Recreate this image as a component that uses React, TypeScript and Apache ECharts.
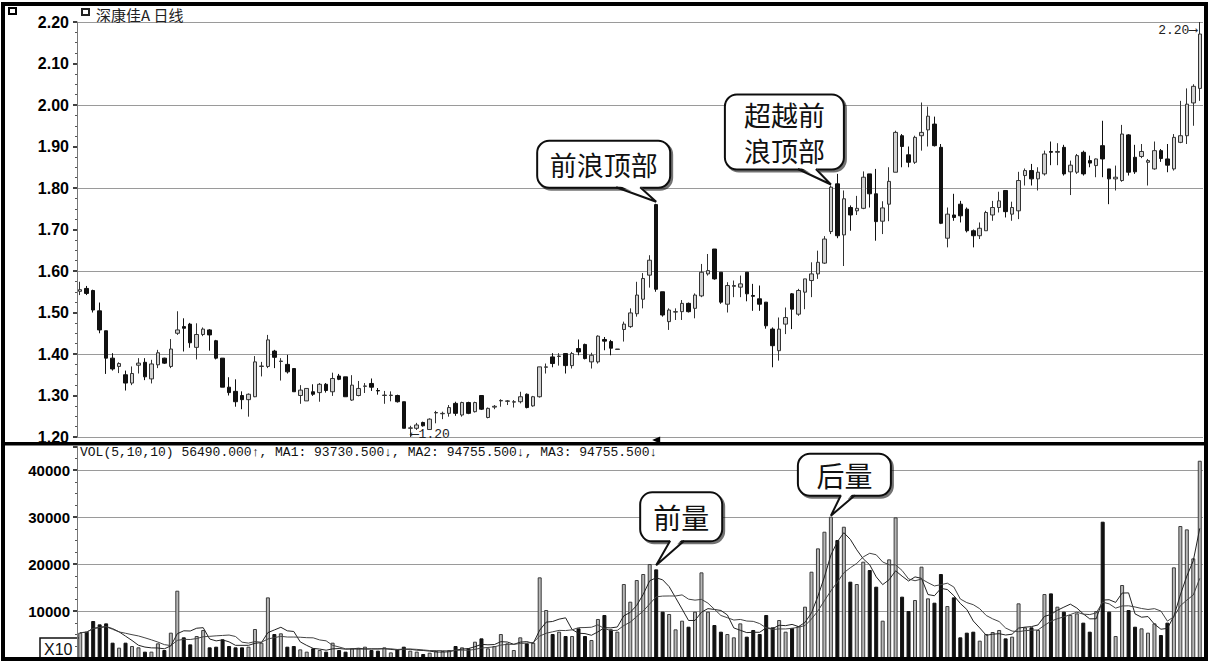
import React, { useEffect, useRef } from "react";
import * as echarts from "echarts";

const open = [
  1.551, 1.558, 1.553, 1.504, 1.456, 1.39, 1.37, 1.35, 1.33, 1.373,
  1.38, 1.34, 1.374, 1.39, 1.37, 1.45, 1.466, 1.472, 1.416, 1.447,
  1.458, 1.432, 1.39, 1.32, 1.31, 1.3, 1.29, 1.297, 1.37, 1.37,
  1.407, 1.382, 1.375, 1.365, 1.3, 1.287, 1.309, 1.307, 1.327, 1.309,
  1.347, 1.345, 1.289, 1.3, 1.322, 1.329, 1.312, 1.3, 1.3, 1.3,
  1.285, 1.221, 1.221, 1.235, 1.218, 1.258, 1.256, 1.257, 1.281, 1.253,
  1.283, 1.261, 1.3, 1.247, 1.272, 1.287, 1.286, 1.284, 1.285, 1.303,
  1.275, 1.297, 1.368, 1.393, 1.394, 1.401, 1.372, 1.413, 1.423, 1.381,
  1.381, 1.435, 1.43, 1.411, 1.459, 1.466, 1.497, 1.532, 1.59, 1.76,
  1.55, 1.478, 1.501, 1.502, 1.522, 1.51, 1.54, 1.593, 1.653, 1.597,
  1.52, 1.563, 1.561, 1.597, 1.541, 1.533, 1.525, 1.46, 1.408, 1.472,
  1.545, 1.496, 1.549, 1.577, 1.593, 1.619, 1.695, 1.81, 1.687, 1.753,
  1.745, 1.751, 1.834, 1.786, 1.72, 1.761, 1.838, 1.926, 1.88, 1.862,
  1.926, 1.94, 1.954, 1.898, 1.679, 1.735, 1.761, 1.749, 1.697, 1.685,
  1.697, 1.735, 1.753, 1.794, 1.737, 1.745, 1.83, 1.842, 1.822, 1.834,
  1.888, 1.886, 1.898, 1.839, 1.838, 1.886, 1.866, 1.854, 1.902, 1.846,
  1.822, 1.818, 1.928, 1.874, 1.876, 1.862, 1.846, 1.89, 1.87, 1.846,
  1.91, 1.926, 2.005, 2.04,
];

const close = [
  1.555, 1.546, 1.506, 1.458, 1.39, 1.364, 1.377, 1.33, 1.353, 1.378,
  1.345, 1.376, 1.403, 1.378, 1.412, 1.458, 1.462, 1.427, 1.447, 1.46,
  1.446, 1.39, 1.32, 1.307, 1.285, 1.29, 1.303, 1.381, 1.371, 1.434,
  1.392, 1.383, 1.357, 1.309, 1.313, 1.317, 1.303, 1.327, 1.312, 1.341,
  1.339, 1.297, 1.325, 1.317, 1.323, 1.32, 1.311, 1.301, 1.301, 1.285,
  1.221, 1.222, 1.229, 1.227, 1.243, 1.259, 1.257, 1.271, 1.257, 1.283,
  1.257, 1.283, 1.267, 1.269, 1.274, 1.288, 1.287, 1.285, 1.297, 1.271,
  1.297, 1.369, 1.369, 1.377, 1.395, 1.372, 1.401, 1.405, 1.389, 1.397,
  1.443, 1.431, 1.414, 1.412, 1.472, 1.499, 1.542, 1.582, 1.626, 1.556,
  1.494, 1.506, 1.502, 1.522, 1.502, 1.542, 1.597, 1.601, 1.581, 1.525,
  1.565, 1.565, 1.569, 1.545, 1.539, 1.52, 1.468, 1.42, 1.46, 1.488,
  1.508, 1.553, 1.581, 1.593, 1.621, 1.677, 1.802, 1.685, 1.774, 1.735,
  1.751, 1.826, 1.786, 1.719, 1.752, 1.816, 1.934, 1.9, 1.862, 1.922,
  1.934, 1.973, 1.902, 1.715, 1.737, 1.729, 1.733, 1.697, 1.685, 1.703,
  1.741, 1.753, 1.769, 1.743, 1.753, 1.818, 1.842, 1.822, 1.838, 1.882,
  1.886, 1.888, 1.834, 1.855, 1.878, 1.834, 1.86, 1.87, 1.87, 1.822,
  1.826, 1.93, 1.838, 1.839, 1.888, 1.866, 1.89, 1.871, 1.855, 1.922,
  1.926, 2.002, 2.045, 2.171,
];

const low = [
  1.542, 1.542, 1.5, 1.45, 1.352, 1.36, 1.354, 1.312, 1.325, 1.353,
  1.337, 1.329, 1.366, 1.376, 1.366, 1.446, 1.406, 1.415, 1.387, 1.443,
  1.408, 1.387, 1.32, 1.3, 1.273, 1.267, 1.249, 1.296, 1.346, 1.366,
  1.366, 1.336, 1.353, 1.309, 1.28, 1.287, 1.299, 1.285, 1.307, 1.299,
  1.337, 1.297, 1.287, 1.298, 1.306, 1.311, 1.302, 1.28, 1.286, 1.283,
  1.221, 1.2, 1.217, 1.225, 1.217, 1.233, 1.243, 1.249, 1.251, 1.249,
  1.255, 1.259, 1.265, 1.245, 1.267, 1.273, 1.277, 1.271, 1.281, 1.269,
  1.273, 1.295, 1.353, 1.368, 1.372, 1.353, 1.365, 1.397, 1.387, 1.365,
  1.377, 1.409, 1.397, 1.41, 1.43, 1.463, 1.49, 1.51, 1.56, 1.55,
  1.49, 1.458, 1.482, 1.482, 1.5, 1.486, 1.537, 1.589, 1.579, 1.521,
  1.5, 1.537, 1.537, 1.527, 1.504, 1.504, 1.461, 1.368, 1.384, 1.448,
  1.46, 1.492, 1.508, 1.537, 1.581, 1.617, 1.689, 1.679, 1.612, 1.697,
  1.735, 1.749, 1.753, 1.673, 1.689, 1.72, 1.838, 1.85, 1.85, 1.858,
  1.89, 1.9, 1.9, 1.713, 1.657, 1.721, 1.717, 1.693, 1.657, 1.677,
  1.697, 1.721, 1.741, 1.729, 1.721, 1.725, 1.806, 1.806, 1.794, 1.83,
  1.855, 1.855, 1.83, 1.783, 1.834, 1.83, 1.85, 1.826, 1.826, 1.761,
  1.794, 1.815, 1.83, 1.834, 1.872, 1.806, 1.844, 1.863, 1.838, 1.842,
  1.908, 1.906, 1.95, 2.01,
];

const high = [
  1.574, 1.564, 1.555, 1.524, 1.456, 1.402, 1.38, 1.36, 1.37, 1.39,
  1.39, 1.386, 1.41, 1.391, 1.436, 1.503, 1.486, 1.475, 1.474, 1.464,
  1.46, 1.434, 1.39, 1.344, 1.339, 1.31, 1.305, 1.395, 1.381, 1.446,
  1.41, 1.39, 1.398, 1.365, 1.325, 1.317, 1.327, 1.33, 1.33, 1.355,
  1.352, 1.345, 1.349, 1.335, 1.33, 1.341, 1.318, 1.311, 1.31, 1.302,
  1.285, 1.227, 1.234, 1.237, 1.245, 1.263, 1.261, 1.277, 1.285, 1.285,
  1.285, 1.285, 1.301, 1.271, 1.277, 1.291, 1.289, 1.289, 1.309, 1.305,
  1.299, 1.369, 1.377, 1.402, 1.402, 1.402, 1.405, 1.435, 1.425, 1.403,
  1.445, 1.441, 1.434, 1.412, 1.478, 1.51, 1.574, 1.595, 1.638, 1.762,
  1.55, 1.51, 1.51, 1.53, 1.524, 1.546, 1.617, 1.641, 1.653, 1.597,
  1.573, 1.577, 1.589, 1.597, 1.569, 1.565, 1.525, 1.464, 1.488, 1.512,
  1.547, 1.557, 1.581, 1.621, 1.649, 1.684, 1.806, 1.834, 1.794, 1.758,
  1.781, 1.84, 1.834, 1.846, 1.768, 1.85, 1.938, 1.93, 1.9, 1.926,
  2.006, 1.996, 1.972, 1.906, 1.753, 1.786, 1.769, 1.753, 1.7, 1.717,
  1.745, 1.769, 1.791, 1.794, 1.767, 1.839, 1.847, 1.858, 1.85, 1.89,
  1.912, 1.908, 1.904, 1.866, 1.882, 1.89, 1.878, 1.871, 1.962, 1.846,
  1.854, 1.952, 1.93, 1.904, 1.906, 1.87, 1.912, 1.894, 1.906, 1.93,
  2.01, 2.04, 2.05, 2.2,
];

const volume = [
  5390, 5600, 7870, 7160, 7370, 3260, 2200, 3260, 2550, 2270,
  1350, 1350, 3120, 1700, 5390, 14320, 4400, 2900, 4680, 5960,
  2270, 2410, 3970, 2550, 2270, 2270, 2410, 6170, 3260, 12900,
  5100, 5250, 2410, 2550, 1840, 1350, 2060, 1700, 1350, 3260,
  1700, 1350, 2060, 2060, 2410, 1700, 1560, 2270, 1200, 1840,
  2410, 1560, 1350, 850, 1130, 1490, 1490, 1700, 2550, 2270,
  2060, 3470, 4180, 2060, 2550, 5100, 3120, 1700, 4400, 3120,
  3260, 17160, 10210, 5100, 5600, 4680, 4680, 6310, 4680, 3830,
  8300, 9150, 6100, 5600, 15740, 11980, 16590, 17870, 19990, 18860,
  9860, 9360, 6100, 7940, 6660, 9860, 18220, 9860, 7020, 5600,
  5100, 4400, 7370, 4540, 5960, 5100, 9150, 6520, 8080, 5600,
  6400, 6800, 10920, 18360, 23330, 26870, 30060, 25100, 27930, 16240,
  15740, 20490, 18720, 15170, 7940, 20990, 29920, 13050, 10000, 12340,
  19430, 12690, 11770, 17870, 11060, 12900, 4400, 5390, 5600, 3690,
  5100, 5530, 5960, 4180, 4540, 11630, 6520, 6520, 5960, 13610,
  13750, 10920, 9860, 9150, 9500, 7520, 5600, 10000, 29000, 9860,
  4680, 15530, 10210, 6660, 6310, 5390, 7370, 4890, 7520, 19290,
  28080, 27370, 21200, 41970,
];

const priceTicks = [1.2, 1.3, 1.4, 1.5, 1.6, 1.7, 1.8, 1.9, 2.0, 2.1, 2.2];
const volumeTicks = [10000, 20000, 30000, 40000];
const days = open.map((_, i) => String(i + 1));

const titleText = "深康佳A 日线";
const volHeader =
  "VOL(5,10,10) 56490.000↑, MA1: 93730.500↓, MA2: 94755.500↓, MA3: 94755.500↓";

function movingAverage(values: number[], n: number) {
  return values.map((_, i) => {
    const start = Math.max(0, i - n + 1);
    const slice = values.slice(start, i + 1);
    return slice.reduce((a, b) => a + b, 0) / slice.length;
  });
}

function isUp(i: number) {
  if (close[i] > open[i]) return true;
  if (close[i] < open[i]) return false;
  return i === 0 ? true : close[i] >= close[i - 1];
}

const CJK = '"Noto Sans CJK SC", "Noto Sans", sans-serif';

function bubble(
  tip: number[],
  rx: number,
  ry: number,
  w: number,
  h: number,
  b1: number,
  b2: number,
  lines: string[],
  fontSize: number,
  lineGap: number
) {
  const x0 = tip[0] + rx;
  const y0 = tip[1] + ry;
  const baseY = y0 + h;
  const els: any[] = [
    {
      type: "rect",
      z: 100,
      shape: { x: x0, y: y0, width: w, height: h, r: 12 },
      style: {
        fill: "#fff",
        stroke: "#111",
        lineWidth: 2,
        shadowColor: "rgba(0,0,0,0.55)",
        shadowOffsetX: 2,
        shadowOffsetY: 2,
        shadowBlur: 1,
      },
    },
    {
      type: "polygon",
      z: 101,
      shape: {
        points: [
          [tip[0] + b1 + 1, baseY - 3],
          [tip[0] + b2 - 1, baseY - 3],
          [tip[0], tip[1]],
        ],
      },
      style: { fill: "#fff" },
    },
    {
      type: "polyline",
      z: 102,
      shape: {
        points: [
          [tip[0] + b1, baseY - 0.5],
          [tip[0], tip[1]],
          [tip[0] + b2, baseY - 0.5],
        ],
      },
      style: { stroke: "#111", lineWidth: 2, fill: null },
    },
  ];
  const cx = x0 + w / 2;
  const cy = y0 + h / 2;
  const n = lines.length;
  lines.forEach((t, k) => {
    els.push({
      type: "text",
      z: 103,
      x: cx,
      y: cy + (k - (n - 1) / 2) * lineGap,
      style: {
        text: t,
        fill: "#111",
        font: `${fontSize}px ${CJK}`,
        align: "center",
        verticalAlign: "middle",
      },
    });
  });
  return els;
}

export default function App() {
  const ref = useRef<HTMLDivElement>(null);

  useEffect(() => {
    document.body.style.margin = "0";
    if (!ref.current) return;
    const chart = echarts.init(ref.current, null, { renderer: "svg" });

    const ma5 = movingAverage(volume, 5);
    const ma10 = movingAverage(volume, 10);

    const candleData = open.map((o, i) => [o, close[i], low[i], high[i]]);
    const volData = volume.map((v, i) => ({
      value: v,
      itemStyle: isUp(i)
        ? { color: "#b8b8b8", borderColor: "#3c3c3c", borderWidth: 1 }
        : { color: "#111", borderColor: "#111", borderWidth: 1 },
    }));

    const lastIdx = open.length - 1;
    let lowIdx = 0;
    low.forEach((v, i) => {
      if (v < low[lowIdx]) lowIdx = i;
    });

    const axisLabelStyle = {
      color: "#000",
      fontFamily: '"Liberation Sans", Arial, sans-serif',
      fontWeight: "bold" as const,
    };

    const option: any = {
      animation: false,
      backgroundColor: "#fff",
      grid: [
        { left: 77, right: 9, top: 22, height: 415 },
        { left: 77, right: 9, top: 446.5, height: 211.5 },
      ],
      xAxis: [
        {
          type: "category",
          gridIndex: 0,
          data: days,
          boundaryGap: true,
          axisLine: { show: false },
          axisTick: { show: false },
          axisLabel: { show: false },
          splitLine: { show: false },
        },
        {
          type: "category",
          gridIndex: 1,
          data: days,
          boundaryGap: true,
          axisLine: { show: false },
          axisTick: { show: false },
          axisLabel: { show: false },
          splitLine: { show: false },
        },
      ],
      yAxis: [
        {
          type: "value",
          gridIndex: 0,
          min: priceTicks[0],
          max: priceTicks[priceTicks.length - 1],
          interval: 0.1,
          axisLine: { show: true, lineStyle: { color: "#777", width: 1 } },
          axisTick: { show: true, length: 4, lineStyle: { color: "#000", width: 1.5 } },
          minorTick: { show: true, splitNumber: 4, length: 2, lineStyle: { color: "#555" } },
          axisLabel: {
            ...axisLabelStyle,
            fontSize: 16,
            margin: 8,
            formatter: (v: number) => v.toFixed(2),
          },
          splitLine: { show: false },
        },
        {
          type: "value",
          gridIndex: 0,
          min: priceTicks[0],
          max: priceTicks[priceTicks.length - 1],
          interval: 0.2,
          axisLine: { show: false },
          axisTick: { show: false },
          axisLabel: { show: false },
          splitLine: { show: true, lineStyle: { color: "#9a9a9a", width: 1.2 } },
        },
        {
          type: "value",
          gridIndex: 1,
          min: 0,
          max: 45000,
          interval: 10000,
          axisLine: { show: true, lineStyle: { color: "#777", width: 1 } },
          axisTick: { show: true, length: 4, lineStyle: { color: "#000", width: 1.5 } },
          minorTick: { show: true, splitNumber: 4, length: 2, lineStyle: { color: "#555" } },
          axisLabel: {
            ...axisLabelStyle,
            fontSize: 15,
            margin: 7,
            showMaxLabel: false,
            formatter: (v: number) =>
              volumeTicks.indexOf(v) >= 0 ? String(v) : "",
          },
          splitLine: {
            show: true,
            showMaxLine: false,
            showMinLine: false,
            lineStyle: { color: "#9a9a9a", width: 1.2 },
          },
        },
      ],
      series: [
        {
          type: "candlestick",
          xAxisIndex: 0,
          yAxisIndex: 0,
          data: candleData,
          barWidth: 4,
          itemStyle: {
            color: "#d0d0d0",
            color0: "#111",
            borderColor: "#333",
            borderColor0: "#111",
            borderWidth: 1,
          },
          markPoint: {
            silent: true,
            data: [
              {
                coord: [lastIdx, high[lastIdx]],
                symbol: "circle",
                symbolSize: 1,
                itemStyle: { color: "rgba(0,0,0,0)" },
                label: {
                  show: true,
                  position: "left",
                  distance: 2,
                  offset: [0, 8],
                  formatter: high[lastIdx].toFixed(2) + "⟶",
                  color: "#222",
                  fontSize: 13,
                  fontFamily: '"Liberation Mono", monospace',
                },
              },
              {
                coord: [lowIdx, low[lowIdx]],
                symbol: "circle",
                symbolSize: 1,
                itemStyle: { color: "rgba(0,0,0,0)" },
                label: {
                  show: true,
                  position: "right",
                  distance: 0,
                  offset: [0, -3],
                  formatter: "⟵" + low[lowIdx].toFixed(2),
                  color: "#222",
                  fontSize: 13,
                  fontFamily: '"Liberation Mono", monospace',
                },
              },
              {
                coord: [89, priceTicks[0]],
                symbol: "triangle",
                symbolRotate: 90,
                symbolSize: [7, 8],
                symbolOffset: [0, 3],
                itemStyle: { color: "#000" },
                label: { show: false },
              },
            ],
          },
        },
        {
          type: "bar",
          xAxisIndex: 1,
          yAxisIndex: 2,
          data: volData,
          barWidth: 4,
        },
        {
          type: "line",
          xAxisIndex: 1,
          yAxisIndex: 2,
          data: ma5,
          symbol: "none",
          lineStyle: { color: "#222", width: 1 },
          z: 5,
        },
        {
          type: "line",
          xAxisIndex: 1,
          yAxisIndex: 2,
          data: ma10,
          symbol: "none",
          lineStyle: { color: "#444", width: 1 },
          z: 5,
        },
      ],
      graphic: [
        {
          type: "rect",
          z: 0,
          shape: { x: 40, y: 638, width: 40, height: 20 },
          style: { fill: "#fff", stroke: "#111", lineWidth: 1.5 },
        },
        {
          type: "text",
          z: 0,
          x: 44,
          y: 649,
          style: {
            text: "X10",
            fill: "#111",
            font: '16px "Liberation Sans", Arial, sans-serif',
            verticalAlign: "middle",
          },
        },
      ],
    };

    chart.setOption(option);

    const toPx = (idx: number, v: number, grid: number) =>
      chart.convertToPixel(
        { xAxisIndex: grid, yAxisIndex: grid === 0 ? 0 : 2 },
        [idx, v]
      ) as number[];

    const t1 = toPx(89, high[89], 0);
    t1[1] -= 2;
    const t2 = toPx(116, high[116], 0);
    t2[1] -= 1;
    const t3 = toPx(89, volume[89], 1);
    t3[1] -= 4;
    const t4 = toPx(116, volume[116], 1);
    t4[1] -= 1;

    const extra: any[] = [
      // outer frame
      {
        type: "rect",
        z: 90,
        shape: { x: 3, y: 4, width: 1203, height: 655 },
        style: { fill: null, stroke: "#000", lineWidth: 4 },
      },
      // pane separator
      {
        type: "rect",
        z: 90,
        shape: { x: 3, y: 442, width: 1203, height: 3.5 },
        style: { fill: "#000" },
      },
      // top-left icon
      {
        type: "rect",
        z: 91,
        shape: { x: 9, y: 8, width: 7, height: 6 },
        style: { fill: "#fff", stroke: "#000", lineWidth: 2 },
      },
      {
        type: "rect",
        z: 91,
        shape: { x: 82, y: 9, width: 7, height: 6 },
        style: { fill: "#fff", stroke: "#222", lineWidth: 2 },
      },
      {
        type: "text",
        z: 91,
        x: 96,
        y: 14,
        style: {
          text: titleText,
          fill: "#222",
          font: `15px ${CJK}`,
          verticalAlign: "middle",
        },
      },
      {
        type: "text",
        z: 91,
        x: 80,
        y: 452,
        style: {
          text: volHeader,
          fill: "#111",
          font: '13px "Liberation Mono", "DejaVu Sans Mono", monospace',
          verticalAlign: "middle",
        },
      },
      ...bubble(t1, -119, -61, 133, 47, -40, -16, ["前浪顶部"], 27, 0),
      ...bubble(t2, -106, -90, 119, 75, -33, -15, ["超越前", "浪顶部"], 27, 36),
      ...bubble(t3, -16, -73, 82, 49, 14, 28, ["前量"], 28, 0),
      ...bubble(t4, -33, -62, 93, 42, 10, 24, ["后量"], 28, 0),
    ];

    chart.setOption({ graphic: [...option.graphic, ...extra] });

    return () => {
      chart.dispose();
    };
  }, []);

  return <div ref={ref} style={{ width: 1212, height: 664 }} />;
}
